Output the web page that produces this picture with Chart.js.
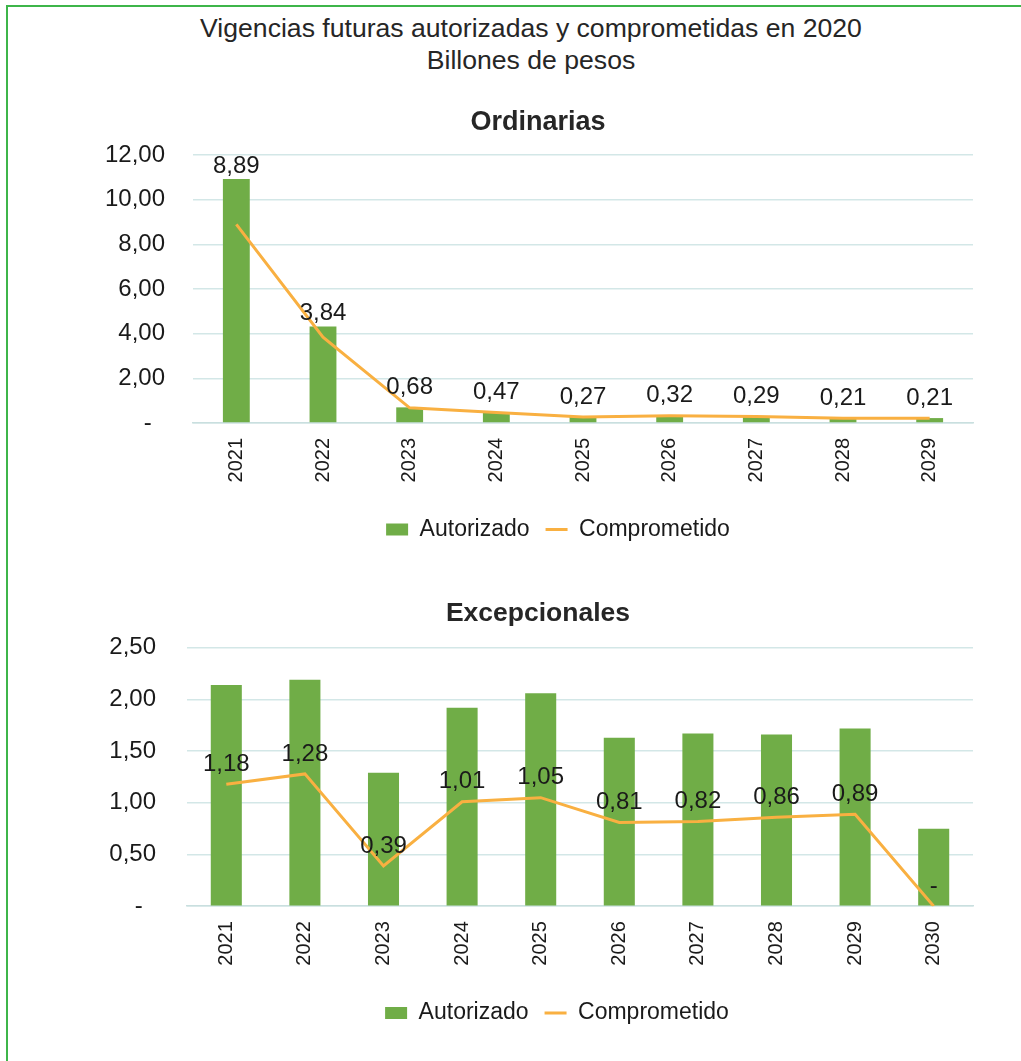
<!DOCTYPE html>
<html><head><meta charset="utf-8">
<script src="https://cdn.jsdelivr.net/npm/chart.js@4/dist/chart.umd.min.js"></script>
<style>
html,body{margin:0;padding:0;background:#fff;}
#page{position:relative;width:1021px;height:1061px;overflow:hidden;font-family:'Liberation Sans',Arial,sans-serif;}
#bt{position:absolute;left:6px;top:5px;right:0;height:2px;background:#3DB54A;}
#bl{position:absolute;left:6px;top:5px;width:2px;bottom:0;background:#3DB54A;}
#title{position:absolute;left:41px;width:980px;top:12px;text-align:center;font-size:26.6px;line-height:32px;color:#262626;}
canvas{position:absolute;left:0;}
</style></head>
<body><div id="page"><div id="bt"></div><div id="bl"></div>
<div id="title">Vigencias futuras autorizadas y comprometidas en 2020<br>Billones de pesos</div>
<canvas id="c1" width="1021" height="480" style="top:95px;width:1021px;height:480px"></canvas>
<canvas id="c2" width="1021" height="481" style="top:580px;width:1021px;height:481px"></canvas>
</div>
<script>
// ---- Data ----
const ordCategories = ['2021','2022','2023','2024','2025','2026','2027','2028','2029'];
const ordAutorizado = [10.92, 4.32, 0.70, 0.48, 0.28, 0.33, 0.30, 0.22, 0.22];
const ordComprometido = [8.89, 3.84, 0.68, 0.47, 0.27, 0.32, 0.29, 0.21, 0.21];
const ordYMax = 12, ordYStep = 2;

const excCategories = ['2021','2022','2023','2024','2025','2026','2027','2028','2029','2030'];
const excAutorizado = [2.14, 2.19, 1.29, 1.92, 2.06, 1.63, 1.67, 1.66, 1.72, 0.75];
const excComprometido = [1.18, 1.28, 0.39, 1.01, 1.05, 0.81, 0.82, 0.86, 0.89, 0];
const excYMax = 2.5, excYStep = 0.5;

const seriesNames = ['Autorizado', 'Comprometido'];
// ---------------

const GREEN = '#70AD47', ORANGE = '#F9B041', GRID = '#D3E7E7', TEXT = '#1a1a1a';
const FONT = "'Liberation Sans', Arial, sans-serif";

function fmt(v){ return v === 0 ? '-' : v.toFixed(2).replace('.', ','); }
function fmtTick(v){ return v === 0 ? '-  ' : v.toFixed(2).replace('.', ','); }

const lineLabels = {
  id: 'lineLabels',
  afterDatasetsDraw(chart, args, opts){
    const ctx = chart.ctx;
    const barMeta = chart.getDatasetMeta(0);
    const lineMeta = chart.getDatasetMeta(1);
    ctx.save();
    ctx.font = '24px ' + FONT;
    ctx.fillStyle = TEXT;
    ctx.textAlign = 'center';
    ctx.textBaseline = 'middle';
    lineMeta.data.forEach((pt, i) => {
      let y = pt.y - 20;
      if (opts.aboveBar) y = Math.min(y, barMeta.data[i].y - 13);
      ctx.fillText(fmt(chart.data.datasets[1].data[i]), pt.x, y);
    });
    ctx.restore();
  }
};

const legendShift = {
  id: 'legendShift',
  afterLayout(chart, args, opts){
    if (chart.legend) { chart.legend.left += opts.dx; chart.legend.right += opts.dx; }
  }
};

function makeChart(id, cats, aut, comp, cfg){
  return new Chart(document.getElementById(id), {
    type: 'bar',
    data: {
      labels: cats,
      datasets: [
        { type: 'bar', label: seriesNames[0], data: aut, backgroundColor: GREEN, borderWidth: 0,
          barPercentage: cfg.barPct, categoryPercentage: 1, order: 2 },
        { type: 'line', label: seriesNames[1], data: comp, borderColor: ORANGE, borderWidth: 3,
          pointRadius: 0, fill: false, tension: 0, order: 1 }
      ]
    },
    options: {
      responsive: false, animation: false,
      layout: { padding: { left: cfg.padL, right: cfg.padR, top: 0, bottom: cfg.padB } },
      scales: {
        x: {
          grid: { display: false, drawTicks: false },
          border: { display: true, color: '#C9DFDF', width: 1.5 },
          ticks: { minRotation: 90, maxRotation: 90, autoSkip: false, padding: 15,
                   color: TEXT, font: { family: FONT, size: 20 } },
          afterFit(s){ s.height = cfg.xH; }
        },
        y: {
          min: 0, max: cfg.yMax,
          grid: { color: GRID, lineWidth: 1.5, drawTicks: false },
          border: { display: false },
          ticks: { stepSize: cfg.yStep, padding: cfg.tickPad, color: TEXT,
                   font: { family: FONT, size: 24 }, callback: v => fmtTick(v) },
          afterFit(s){ s.width = cfg.axisW; }
        }
      },
      plugins: {
        title: { display: true, text: cfg.title, color: '#262626',
                 font: { family: FONT, size: cfg.tSize, weight: 'bold' },
                 padding: { top: cfg.tPadT, bottom: cfg.tPadB } },
        legend: {
          position: 'bottom',
          labels: {
            usePointStyle: true, pointStyleWidth: 22, boxHeight: 12, padding: 16,
            color: TEXT, font: { family: FONT, size: 23 },
            generateLabels(){
              return [
                { text: seriesNames[0], fillStyle: GREEN, strokeStyle: GREEN, lineWidth: 0,
                  pointStyle: 'rect', hidden: false, datasetIndex: 0, fontColor: TEXT },
                { text: seriesNames[1], fillStyle: ORANGE, strokeStyle: ORANGE, lineWidth: 3,
                  pointStyle: 'line', hidden: false, datasetIndex: 1, fontColor: TEXT }
              ];
            }
          }
        },
        tooltip: { enabled: false },
        lineLabels: { aboveBar: cfg.aboveBar },
        legendShift: { dx: cfg.legendDx }
      }
    },
    plugins: [lineLabels, legendShift]
  });
}

makeChart('c1', ordCategories, ordAutorizado, ordComprometido, {
  yMax: ordYMax, yStep: ordYStep, barPct: 0.31, padL: 103, padR: 48, padB: 24,
  axisW: 90, tickPad: 28, xH: 79, title: 'Ordinarias', tSize: 27, tPadT: 11.8, tPadB: 15.8,
  aboveBar: true, legendDx: 20
});
makeChart('c2', excCategories, excAutorizado, excComprometido, {
  yMax: excYMax, yStep: excYStep, barPct: 0.395, padL: 103, padR: 48, padB: 26.4,
  axisW: 84, tickPad: 31, xH: 79.4, title: 'Excepcionales', tSize: 26.5, tPadT: 18, tPadB: 18,
  aboveBar: false, legendDx: 19
});
</script>
</body></html>
